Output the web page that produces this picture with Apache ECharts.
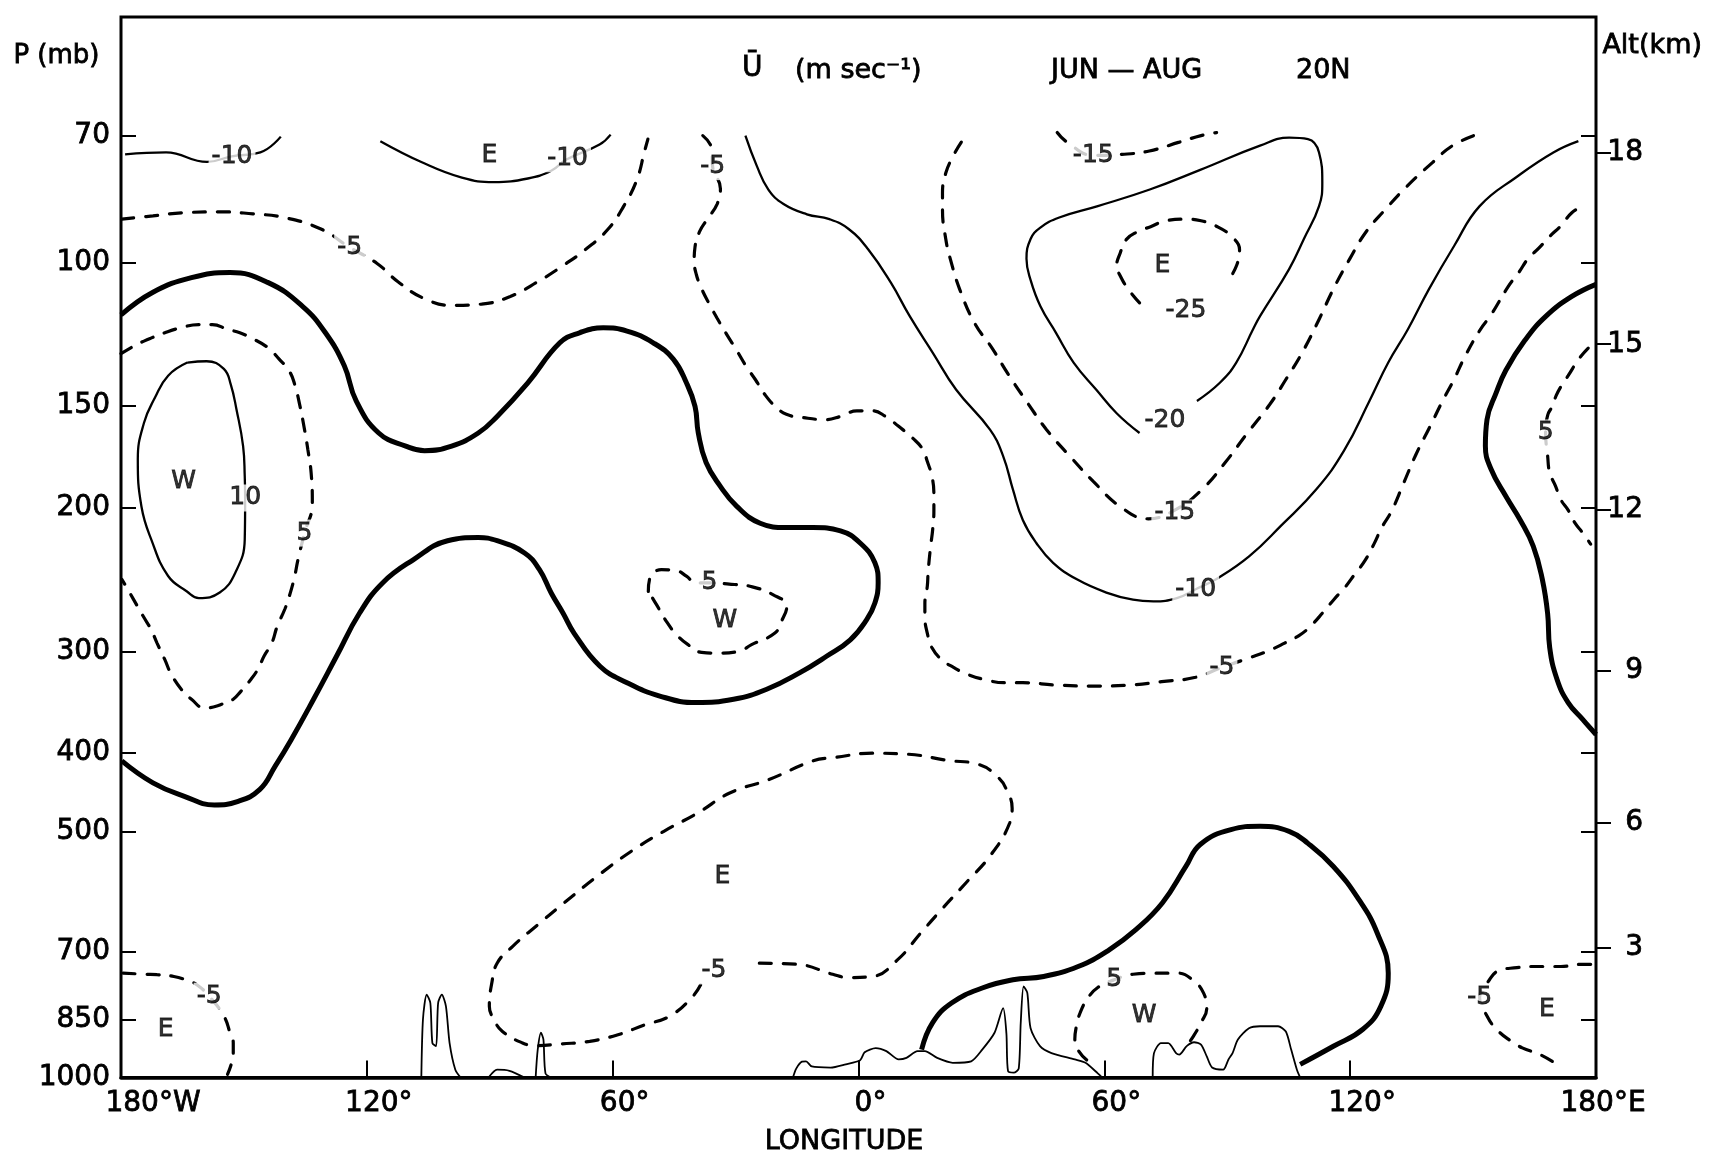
<!DOCTYPE html>
<html>
<head>
<meta charset="utf-8">
<title>U JUN-AUG 20N</title>
<script src="https://cdn.jsdelivr.net/npm/echarts@6/dist/echarts.min.js"></script>
<style>
    html, body { margin: 0; padding: 0; background: #fff; }
    #main { width: 1725px; height: 1161px; }
</style>
</head>
<body>
<div id="main"></div>
<script>
// axis levels
var pLevels = [70, 100, 150, 200, 300, 400, 500, 700, 850, 1000];
var altKm = [18, 15, 12, 9, 6, 3];
var altP = [73.4, 126, 201, 317, 487, 693];

// contours, [longitude, pressure mb]
// 0 m/s (heavy lines)
var zeroWest = [[-180,116.0],[-172.2,108.8],[-162.8,104.4],[-153.4,102.9],[-144.2,105.8],[-135.7,113.2],[-130.1,122.0],[-125.5,133.9],[-122.6,147.9],[-117.1,161.9],[-110.5,168.0],[-105.9,170.2],[-99.3,168.0],[-92.8,161.9],[-88.2,154.5],[-80.7,140.5],[-72.9,125.5],[-68.1,122.0],[-62.3,120.3],[-56.5,121.4],[-50.1,125.5],[-45.2,131.4],[-42.0,140.5],[-39.9,150.2],[-39.1,161.9],[-37.2,176.0],[-33.8,188.0],[-29.7,199.2],[-24.0,208.9],[-17.6,211.5],[-11.1,211.5],[-4.4,213.5],[0.4,220.9],[4.0,233.6],[4.8,247.1],[4.0,261.7],[2.0,274.3],[-2.0,290.4],[-7.8,304.2],[-14.4,318.8],[-22.4,333.9],[-30.5,343.5],[-39.6,346.7],[-48.5,340.4],[-56.5,327.8],[-63.1,312.9],[-69.4,285.1],[-72.1,269.4],[-75.0,254.4],[-77.9,238.0],[-81.5,227.2],[-88.2,219.5],[-92.8,217.5],[-100.3,219.5],[-108.6,231.5],[-116.1,247.1],[-121.8,269.4],[-127.4,304.2],[-133.0,343.5],[-138.5,385.3],[-142.4,415.2],[-146.1,443.1],[-151.6,458.6],[-157.2,462.9],[-164.7,451.5],[-172.2,435.0],[-179.8,408.8]];
var zeroEast = [[180,106.4],[174.1,110.1],[167.8,116.4],[162.6,124.7],[158.0,135.6],[155.6,144.7],[153.4,155.9],[153.0,168.0],[154.4,179.4],[158.0,193.6],[161.5,207.0],[164.7,223.0],[166.9,244.8],[168.2,269.7],[168.7,296.8],[170.5,324.8],[173.2,346.7],[176.8,363.8],[180,379.4]];
var zeroLow = [[15.4,924.0],[18.1,856.2],[22.8,809.6],[30.2,776.4],[37.7,758.6],[45.2,751.5],[53.6,730.7],[61.1,697.5],[67.7,658.5],[74.2,610.3],[79.9,550.8],[83.4,517.6],[90.9,496.3],[98.0,491.6],[105.1,498.7],[109.7,516.0],[115.9,550.8],[122.1,604.6],[126.6,664.7],[129.3,744.5],[127.5,817.2],[123.1,872.3],[115.9,915.3],[107.8,963.4]];

// easterlies, solid
var m10West = [[-179,73.7],[-169,73.3],[-159,75.3],[-153,74.1],[-146,73.3],[-141,70.1]];
var m10Mid = [[-116.7,71.0],[-106.7,75.3],[-96.8,78.7],[-89,79.7],[-80.7,78.9],[-75,77.2],[-71.3,74.8],[-63.2,71.7],[-60.5,69.7]];
var m10East = [[-27.6,69.9],[-24.8,76.2],[-22.0,81.4],[-18.3,84.8],[-12.6,87.3],[-7.1,88.5],[-2.4,91.0],[2.3,96.3],[7.9,105.9],[12.5,116.4],[18.1,129.0],[23.8,143.2],[32.1,160.4],[35.3,172.8],[37.7,190.0],[40.1,207.0],[43.4,220.9],[47.5,233.6],[53.3,244.8],[60.5,254.1],[67.0,259.3],[72.0,260.5],[77.7,258.1],[82.3,251.7],[87.7,244.0],[95.4,229.3],[103.2,210.2],[111.8,189.7],[118.5,170.2],[124.7,147.9],[129.3,132.7],[134.1,120.8],[139.2,107.9],[145.4,95.4],[151.6,85.3],[160.7,78.5],[169.6,73.3],[175.7,71.0]];
var m20 = [[68.6,161.9],[63.0,153.1],[58.1,143.4],[52.5,132.7],[48.2,122.0],[44.4,113.2],[42.0,105.1],[41.0,99.0],[42.0,93.6],[44.3,90.7],[49.0,88.1],[58.4,85.3],[71.1,81.4],[83.4,77.0],[98.0,71.9],[105.1,70.3],[109.7,70.6],[112.4,73.3],[113.2,79.8],[112.4,85.3],[108.7,93.6],[105.1,101.9],[98.0,116.4],[96.3,120.8],[92.2,132.7],[88.2,140.5],[82.6,147.9]];

// westerlies, solid
var p10West = [[-163.8,132.7],[-168.5,137.7],[-171.7,146.5],[-174.4,157.4],[-175.9,174.4],[-175.0,199.4],[-172.6,218.8],[-168.5,242.5],[-163.9,253.3],[-161.0,258.1],[-155.9,254.1],[-152.1,240.2],[-149.8,218.8],[-149.7,195.7],[-149.8,182.8],[-150.2,168.0],[-151.8,151.6],[-153.2,141.2],[-154.9,135.1],[-159.1,132.2],[-163.8,132.7]];

// dashed contours
var m5West = [[-179.8,88.5],[-172.2,87.7],[-164.7,86.9],[-155.3,86.7],[-147.8,87.2],[-140.6,88.0],[-131.2,91.0],[-124.4,95.7],[-117.5,100.3],[-112.4,105.6],[-105.9,110.8],[-99.2,112.9],[-92,112.5],[-85,110.1],[-78,105.4],[-72.1,100.9],[-66.5,96.3],[-61.1,91.0],[-57.3,85.3],[-54.1,79.2],[-52.2,73.0],[-51.4,70.6]];
var m5Central = [[-38.0,69.9],[-35.8,72.6],[-35.6,76.3],[-33.7,81.2],[-34.5,84.8],[-36.9,88.5],[-38.8,91.7],[-39.9,95.7],[-40.1,99.6],[-39.6,103.4],[-38.3,107.7],[-36.4,112.5],[-34.5,117.1],[-32.1,122.7],[-29.9,127.8],[-27.5,133.9],[-25.1,139.4],[-22.7,145.6],[-20.3,150.2],[-17.6,153.6],[-13.6,155.0],[-8.2,155.9],[-4.4,154.5],[-0.4,152.1],[3.4,152.1],[6.6,154.5],[9.8,158.9],[13.3,164.4],[15.7,169.6],[16.8,175.5],[17.9,182.8],[18.4,192.1],[18.4,201.3],[18.1,212.8],[17.6,223.0],[17.0,239.5],[16.8,249.4],[16.2,262.1],[16.2,272.1],[16.8,285.1],[17.9,296.8],[20.3,307.1],[23.2,313.9],[26.4,319.8],[30.7,324.8],[35.8,327.8],[40.1,327.8],[48.2,329.9],[57.9,330.9],[66.5,329.9],[74.0,326.8],[82.3,322.8],[88.7,313.9],[95.7,305.2],[100.0,299.6],[104.0,293.1],[107.5,286.9],[110.2,279.8],[113.4,268.7],[116.1,258.9],[118.8,250.1],[121.2,241.0],[123.6,232.2],[125.8,221.6],[127.7,211.5],[130.1,201.9],[133.0,186.8],[136.0,172.3],[139.5,158.9],[142.7,147.4],[145.4,139.0],[148.1,130.2],[151.8,120.8],[154.5,115.7],[158.6,107.0],[161.2,102.8],[163.4,99.0],[166.1,96.0],[168.8,92.8],[171.4,90.2],[174.1,86.9],[176.8,85.3]];
var m5Low = [[-24.2,723.9],[-14.9,726.2],[-6.3,746.8],[-2.3,753.9],[3.4,751.5],[9.5,717.2],[15.2,664.7],[20.3,621.7],[26.2,577.1],[32.4,532.3],[36.9,487.2],[37.5,467.2],[36.1,443.1],[34.2,428.9],[29.5,413.2],[21.6,408.1],[12.2,401.2],[3.4,400.0],[-6.0,405.0],[-11.1,408.8],[-21.9,431.0],[-31.3,447.3],[-39.1,473.1],[-47.5,498.7],[-55.4,527.4],[-63.8,566.4],[-71.8,610.3],[-78.3,649.5],[-84.4,690.2],[-88.2,723.9],[-89.5,765.6],[-90.1,817.2],[-89.0,848.3],[-86.9,877.8],[-82.0,906.7],[-78.8,913.8],[-72.6,909.2],[-65.6,902.6],[-58.7,885.9],[-52.2,861.6],[-46.0,840.3],[-40.4,794.6],[-38.3,765.6]];
var m5SW = [[-179.5,744.5],[-174.1,746.8],[-171.2,747.7],[-167.1,751.5],[-164.2,758.6],[-161.5,769.2],[-158.5,794.6],[-154.9,840.3],[-153.4,880.5],[-152.6,906.7],[-152.6,932.8],[-153.0,959.2],[-154.0,990.7]];
var m5SE = [[178.7,726.2],[176.2,726.2],[171.4,730.7],[168.7,730.7],[164.2,730.7],[160.7,733.0],[156.1,739.9],[154.0,758.6],[151.6,797.1],[153.4,840.3],[155.7,872.3],[159.3,902.6],[162.0,919.5],[166.3,936.9],[170.5,963.4]];
var m15 = [[25.1,71.2],[23.2,73.9],[21.3,77.7],[20.5,82.2],[20.5,86.2],[21.3,93.6],[22.4,99.0],[24.7,107.9],[28.3,118.6],[32.6,127.4],[36.6,137.3],[41.5,149.3],[45.9,160.4],[52.0,173.8],[57.3,185.6],[63.8,199.2],[70.7,206.3],[77.2,201.3],[83.8,190.0],[89.5,176.0],[94.6,162.7],[100.4,149.3],[104.3,139.2],[108.3,129.0],[112.4,117.5],[115.9,107.8],[119.9,99.0],[123.9,91.7],[128.5,86.2],[133.8,80.7],[140.0,75.5],[145.0,71.9],[150.8,69.7]];
var m15Top = [[48.5,69.3],[50.9,71.2],[57.3,73.9],[64.3,73.7],[71.0,73.0],[78.3,71.2],[83.6,69.9],[87.4,69.3]];
var m25 = [[68.6,112.1],[65.8,107.8],[63.9,103.9],[63.0,101.1],[63.9,97.3],[65.4,93.7],[68.1,91.7],[71.3,90.4],[75.0,88.9],[79.9,88.5],[83.6,88.9],[87.2,90.2],[90.9,92.8],[93.0,96.4],[92.2,101.1],[89.9,105.9]];
var p5West = [[-180,129.4],[-176.8,126.6],[-174.4,124.9],[-169.3,122.0],[-165.5,120.3],[-161.0,119.2],[-157.7,119.2],[-154.0,120.8],[-151.0,122.0],[-147.5,124.3],[-144.0,127.4],[-141.4,131.4],[-138.9,136.0],[-137.6,141.2],[-136.3,150.2],[-135.2,160.4],[-134.4,169.6],[-133.6,181.1],[-133.3,197.5],[-135.2,214.8],[-136.8,231.5],[-137.6,242.5],[-138.9,256.5],[-140.0,266.2],[-141.9,279.8],[-143.2,293.1],[-145.1,304.2],[-146.5,314.9],[-148.3,324.8],[-150.8,336.1],[-152.6,343.5],[-154.0,345.3],[-156.4,349.9],[-159.6,352.1],[-162.8,343.5],[-165.3,333.9],[-167.9,318.8],[-169.3,307.1],[-171.2,293.1],[-172.6,282.4],[-174.5,272.1],[-176.0,264.1],[-177.9,254.1],[-179.8,244.8]];
var p5Mid = [[-51.3,253.3],[-50.9,243.8],[-48.1,238.2],[-44.8,238.6],[-41.9,242.8],[-39.9,247.3],[-36.2,247.3],[-30.2,248.4],[-26.5,249.6],[-20.8,255.7],[-17.5,264.1],[-18.8,275.6],[-20.4,284.9],[-26.1,294.4],[-29.3,300.1],[-34.2,301.5],[-38.3,300.9],[-41.6,294.4],[-44.4,286.2],[-46.9,275.6],[-49.3,262.9],[-51.3,253.3]];
var p5East = [[178.1,127.4],[175.8,131.4],[173.2,137.7],[171.4,142.1],[170.3,145.6],[169.3,150.2],[168.2,154.0],[167.7,161.9],[168.2,172.8],[168.7,181.1],[170.1,188.0],[171.4,195.4],[173.2,201.3],[174.9,208.9],[176.8,214.8],[178.7,221.6]];
var p5Low = [[55.7,951.5],[53.6,925.3],[52.8,897.0],[53.2,864.3],[54.1,832.6],[56.0,798.4],[58.4,775.2],[62.4,758.6],[67.0,746.8],[72.4,744.5],[78.0,744.5],[81.8,760.9],[84.2,787.3],[85.0,822.3],[83.6,856.2],[81.8,888.7],[79.9,916.7]];

// orography along the bottom
var groundMexico = [[-106.7,1000],[-106.3,848],[-105.4,791],[-104.5,810],[-104.0,907],[-103.1,915],[-102.6,810],[-101.7,791],[-100.7,817],[-99.8,907],[-98.4,978],[-97.1,1000]];
var groundBump = [[-90.3,1000],[-88.2,978],[-85.2,981],[-81.5,1000]];
var groundPeak = [[-78.8,1000],[-78.3,925],[-77.5,881],[-76.9,898],[-76.4,988],[-75.0,1000]];
var groundAfrica = [[-16.0,1000],[-15.2,975],[-13.8,956],[-12.8,955],[-11.4,969],[-6.8,972],[-3.1,963],[0.4,952],[1.5,931],[4.2,920],[6.8,928],[9.8,950],[11.7,946],[14.4,928],[16.2,928],[19.2,946],[23.0,959],[27.5,955],[30.2,924],[33.2,881],[35.3,822],[36.1,883],[36.5,982],[37.9,986],[39.1,975],[39.6,856],[40.3,773],[41.2,787],[42.0,870],[44.3,915],[47.1,933],[52.8,950],[55.4,959],[58.4,988],[59.5,1000]];
var groundAsia = [[71.8,1000],[72.1,934],[73.8,907],[75.6,907],[77.5,933],[78.3,937],[80.1,915],[81.9,905],[83.6,911],[85.0,942],[86.3,972],[89.0,978],[90.3,950],[91.3,933],[92.6,898],[95.3,870],[98.0,865],[102.4,865],[104.3,878],[105.6,924],[107.0,978],[107.8,1000]];

// contour value labels
var valText = ['-10', '-10', '-5', '-5', '-15', '-25', '-20', '-15', '-10', '-5', '5', '10', '5', '5', '-5', '5', '-5', '-5'];
var valLon = [-152.9, -71.0, -124.2, -35.6, 57.3, 79.9, 74.8, 77.2, 82.3, 88.7, 167.7, -149.7, -135.2, -36.4, -35.3, 62.4, -158.5, 151.6];
var valP = [74.1, 74.6, 96.0, 76.3, 73.9, 114.6, 156.4, 202.9, 251.7, 313.9, 161.9, 194.5, 214.8, 247.3, 739.9, 758.6, 794.6, 797.1];

// easterly / westerly markers
var windText = ['E', 'E', 'W', 'W', 'E', 'W', 'E', 'E'];
var windLon = [-90.1, 74.2, -164.7, -32.6, -33.2, 69.7, -169.1, 168.0];
var windP = [73.9, 101.0, 185.6, 274.6, 566.4, 840.3, 872.3, 824.9];

var font = 'DejaVu Sans';
// thin outline to give the lettering the weight of the stencilled original
var ink = {color: '#000', fontFamily: font, textBorderColor: '#000', textBorderWidth: 0.8};

var myChart = echarts.init(document.getElementById('main'));

function contour(name, data, kind) {
    var styles = {
        zero: {color: '#000', width: 5},
        solid: {color: '#000', width: 2.3},
        dash: {color: '#000', width: 3.2, type: [12, 12], cap: 'round'},
        ground: {color: '#000', width: 1.8}
    };
    return {
        name: name,
        type: 'line',
        data: data,
        smooth: kind === 'ground' ? 0.25 : 0.45,
        symbol: 'none',
        silent: true,
        z: 2,
        lineStyle: styles[kind]
    };
}

function textPoints(texts, lons, ps) {
    return texts.map(function (t, i) {
        return {name: t, value: [lons[i], ps[i]]};
    });
}

function kmLabel(v) {
    var best = 0;
    for (var i = 1; i < altP.length; i++) {
        if (Math.abs(altP[i] - v) < Math.abs(altP[best] - v)) best = i;
    }
    return String(altKm[best]);
}

function txt(extra) {
    return Object.assign({}, ink, extra);
}

var labelStyle = txt({
    show: true,
    position: 'inside',
    fontSize: 25,
    formatter: function (p) { return p.name; }
});

var option = {
    animation: false,
    backgroundColor: '#fff',
    title: [
        {text: 'Ū', left: 737, top: 50, textStyle: txt({fontSize: 28, fontWeight: 'normal'})},
        {text: '(m sec⁻¹)', left: 790, top: 52, textStyle: txt({fontSize: 27, fontWeight: 'normal'})},
        {text: 'JUN — AUG', left: 1046, top: 52, textStyle: txt({fontSize: 27, fontWeight: 'normal'})},
        {text: '20N', left: 1291, top: 52, textStyle: txt({fontSize: 27, fontWeight: 'normal'})}
    ],
    graphic: [
        {type: 'text', left: 13, top: 43, style: {text: 'P (mb)', font: '26px "DejaVu Sans"', fill: '#000', stroke: '#000', lineWidth: 0.8}},
        {type: 'text', left: 1602, top: 32, style: {text: 'Alt(km)', font: '27px "DejaVu Sans"', fill: '#000', stroke: '#000', lineWidth: 0.8}}
    ],
    grid: {
        left: 121, right: 129, top: 17, bottom: 82,
        show: true, borderColor: '#000', borderWidth: 3
    },
    xAxis: {
        type: 'value',
        min: -180,
        max: 180,
        interval: 60,
        axisLine: {onZero: false, lineStyle: {color: '#000', width: 3.5}},
        axisTick: {inside: true, length: 17, lineStyle: {color: '#000', width: 2}},
        axisLabel: txt({
            margin: 12,
            showMinLabel: true,
            showMaxLabel: true,
            fontSize: 28,
            formatter: function (v) {
                if (v === -180) return '{w|180°W}';
                if (v === 180) return '{e|180°E}';
                return '{d|' + Math.abs(v) + '°}';
            },
            rich: {
                w: txt({fontSize: 28, padding: [0, 0, 0, 64]}),
                e: txt({fontSize: 28, padding: [0, 0, 0, 14]}),
                d: txt({fontSize: 28, padding: [0, 0, 0, 24]})
            }
        }),
        splitLine: {show: false},
        name: 'LONGITUDE',
        nameLocation: 'middle',
        nameGap: 51,
        nameTextStyle: txt({fontSize: 27, padding: [0, 29, 0, 0]})
    },
    yAxis: [
        {
            type: 'log',
            logBase: 10,
            inverse: true,
            min: 50,
            max: 1000,
            position: 'left',
            axisLine: {show: true, onZero: false, lineStyle: {color: '#000', width: 2}},
            axisTick: {show: true, inside: true, length: 15, lineStyle: {color: '#000', width: 2}, customValues: pLevels},
            axisLabel: txt({
                show: true,
                customValues: pLevels,
                margin: 11,
                fontSize: 28,
                formatter: function (v) { return String(Math.round(v)); }
            }),
            splitLine: {show: false},
            minorTick: {show: false}
        },
        {
            type: 'log',
            logBase: 10,
            inverse: true,
            min: 50,
            max: 1000,
            position: 'right',
            axisLine: {show: true, onZero: false, lineStyle: {color: '#000', width: 2}},
            axisTick: {show: true, inside: true, length: 15, lineStyle: {color: '#000', width: 2}, customValues: pLevels.slice(0, 9)},
            axisLabel: {show: false},
            splitLine: {show: false}
        },
        {
            type: 'log',
            logBase: 10,
            inverse: true,
            min: 50,
            max: 1000,
            position: 'right',
            axisLine: {show: false, onZero: false},
            axisTick: {show: true, inside: false, length: 15, lineStyle: {color: '#000', width: 2}, customValues: altP},
            axisLabel: txt({
                show: true,
                customValues: altP,
                align: 'right',
                margin: 47,
                fontSize: 28,
                formatter: kmLabel
            }),
            splitLine: {show: false}
        }
    ],
    series: [
        contour('0', zeroWest, 'zero'),
        contour('0', zeroEast, 'zero'),
        contour('0', zeroLow, 'zero'),
        contour('-10', m10West, 'solid'),
        contour('-10', m10Mid, 'solid'),
        contour('-10', m10East, 'solid'),
        contour('-20', m20, 'solid'),
        contour('10', p10West, 'solid'),
        contour('-5', m5West, 'dash'),
        contour('-5', m5Central, 'dash'),
        contour('-5', m5Low, 'dash'),
        contour('-5', m5SW, 'dash'),
        contour('-5', m5SE, 'dash'),
        contour('-15', m15, 'dash'),
        contour('-15', m15Top, 'dash'),
        contour('-25', m25, 'dash'),
        contour('5', p5West, 'dash'),
        contour('5', p5Mid, 'dash'),
        contour('5', p5East, 'dash'),
        contour('5', p5Low, 'dash'),
        contour('ground', groundMexico, 'ground'),
        contour('ground', groundBump, 'ground'),
        contour('ground', groundPeak, 'ground'),
        contour('ground', groundAfrica, 'ground'),
        contour('ground', groundAsia, 'ground'),
        {
            name: 'values',
            type: 'scatter',
            symbol: 'circle',
            symbolSize: 1,
            silent: true,
            z: 5,
            itemStyle: {color: 'rgba(0,0,0,0)'},
            label: Object.assign({}, labelStyle, {backgroundColor: '#fff', padding: [1, 3]}),
            data: textPoints(valText, valLon, valP)
        },
        {
            name: 'wind',
            type: 'scatter',
            symbol: 'circle',
            symbolSize: 1,
            silent: true,
            z: 5,
            itemStyle: {color: 'rgba(0,0,0,0)'},
            label: labelStyle,
            data: textPoints(windText, windLon, windP)
        }
    ]
};

myChart.setOption(option);
</script>
</body>
</html>
